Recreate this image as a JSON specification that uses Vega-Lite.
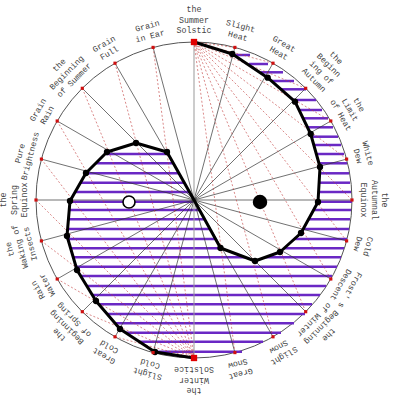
{
  "$schema": "https://vega.github.io/schema/vega-lite/v6.json",
  "width": 388,
  "height": 400,
  "autosize": {"type": "none"},
  "padding": {"left": 0, "top": 0, "right": 5, "bottom": 0},
  "background": "white",
  "config": {"view": {"stroke": null}},
  "datasets": {
    "center": [{"x": 0, "y": 0}],
    "terms": [
      {"deg": 0, "cx": 0, "cy": 158, "lines": 3, "label": "the\nSummer\nSolstic"},
      {"deg": 15, "cx": 40.9, "cy": 152.6, "lines": 2, "label": "Slight\nHeat"},
      {"deg": 30, "cx": 79, "cy": 136.8, "lines": 2, "label": "Great\nHeat"},
      {"deg": 45, "cx": 111.7, "cy": 111.7, "lines": 4, "label": "the\nBeginn\ning of\nAutumn"},
      {"deg": 60, "cx": 136.8, "cy": 79, "lines": 3, "label": "the\nLimit\nof Heat"},
      {"deg": 75, "cx": 152.6, "cy": 40.9, "lines": 2, "label": "White\nDew"},
      {"deg": 90, "cx": 158, "cy": 0, "lines": 3, "label": "the\nAutumnal\nEquinox"},
      {"deg": 105, "cx": 152.6, "cy": -40.9, "lines": 2, "label": "Cold\nDew"},
      {"deg": 120, "cx": 136.8, "cy": -79, "lines": 2, "label": "Frost' s\nDescent"},
      {"deg": 135, "cx": 111.7, "cy": -111.7, "lines": 3, "label": "the\nBeginning\nof Winter"},
      {"deg": 150, "cx": 79, "cy": -136.8, "lines": 2, "label": "Slight\nSnow"},
      {"deg": 165, "cx": 40.9, "cy": -152.6, "lines": 2, "label": "Great\nSnow"},
      {"deg": 180, "cx": 0, "cy": -158, "lines": 3, "label": "the\nWinter\nSolstice"},
      {"deg": 195, "cx": -40.9, "cy": -152.6, "lines": 2, "label": "Slight\nCold"},
      {"deg": 210, "cx": -79, "cy": -136.8, "lines": 2, "label": "Great\nCold"},
      {"deg": 225, "cx": -111.7, "cy": -111.7, "lines": 3, "label": "the\nBeginning\nof Spring"},
      {"deg": 240, "cx": -136.8, "cy": -79, "lines": 2, "label": "Rain\nWater"},
      {"deg": 255, "cx": -152.6, "cy": -40.9, "lines": 3, "label": "the\nWaking of\nInsects"},
      {"deg": 270, "cx": -158, "cy": 0, "lines": 3, "label": "the\nSpring\nEquinox"},
      {"deg": 285, "cx": -152.6, "cy": 40.9, "lines": 2, "label": "Pure\nBrightness"},
      {"deg": 300, "cx": -136.8, "cy": 79, "lines": 2, "label": "Grain\nRain"},
      {"deg": 315, "cx": -111.7, "cy": 111.7, "lines": 3, "label": "the\nBeginning\nof Summer"},
      {"deg": 330, "cx": -79, "cy": 136.8, "lines": 2, "label": "Grain\nFull"},
      {"deg": 345, "cx": -40.9, "cy": 152.6, "lines": 2, "label": "Grain\nin Ear"}
    ],
    "curve": [
      {"seq": 1, "x": 0, "y": 158, "dot": false},
      {"seq": 2, "x": 38.3, "y": 146, "dot": true},
      {"seq": 3, "x": 73.7, "y": 122.3, "dot": true},
      {"seq": 4, "x": 101, "y": 98.3, "dot": true},
      {"seq": 5, "x": 116.7, "y": 66, "dot": true},
      {"seq": 6, "x": 126, "y": 33, "dot": true},
      {"seq": 7, "x": 124, "y": -2, "dot": true},
      {"seq": 8, "x": 107, "y": -33, "dot": true},
      {"seq": 9, "x": 86, "y": -52, "dot": true},
      {"seq": 10, "x": 61, "y": -61, "dot": true},
      {"seq": 11, "x": 26.5, "y": -48, "dot": true},
      {"seq": 12, "x": 0, "y": 0, "dot": false},
      {"seq": 13, "x": -27, "y": 48, "dot": true},
      {"seq": 14, "x": -58, "y": 57, "dot": true},
      {"seq": 15, "x": -87, "y": 48, "dot": true},
      {"seq": 16, "x": -108, "y": 27, "dot": true},
      {"seq": 17, "x": -124, "y": -1, "dot": true},
      {"seq": 18, "x": -127, "y": -36, "dot": true},
      {"seq": 19, "x": -117, "y": -70, "dot": true},
      {"seq": 20, "x": -98, "y": -101, "dot": true},
      {"seq": 21, "x": -74, "y": -129, "dot": true},
      {"seq": 22, "x": -39, "y": -152, "dot": true},
      {"seq": 23, "x": 0, "y": -158, "dot": false}
    ],
    "hatch": [
      {"y": 145, "x1": 40, "x2": 56},
      {"y": 136, "x1": 55, "x2": 74},
      {"y": 127.7, "x1": 67, "x2": 89},
      {"y": 119, "x1": 77.5, "x2": 100},
      {"y": 110.7, "x1": 87, "x2": 112},
      {"y": 100, "x1": 99, "x2": 122},
      {"y": 90, "x1": 105, "x2": 128},
      {"y": 81.7, "x1": 109, "x2": 134},
      {"y": 72.7, "x1": 113, "x2": 139},
      {"y": 63.3, "x1": 117.5, "x2": 144},
      {"y": 55, "x1": 120, "x2": 147},
      {"y": 46, "x1": 122, "x2": 150},
      {"y": 36.7, "x1": 125, "x2": 153},
      {"y": 26.7, "x1": 126, "x2": 155},
      {"y": 17.3, "x1": 125, "x2": 156},
      {"y": 8, "x1": 125, "x2": 157},
      {"y": -1.7, "x1": 124, "x2": 158},
      {"y": -10, "x1": 120, "x2": 157},
      {"y": -19.3, "x1": 114, "x2": 156},
      {"y": -29, "x1": 109, "x2": 155},
      {"y": -39, "x1": 100, "x2": 153},
      {"y": -48.3, "x1": 90, "x2": 150},
      {"y": -57.3, "x1": 71, "x2": 147},
      {"y": 46, "x1": -88, "x2": -26},
      {"y": 36.7, "x1": -98, "x2": -21},
      {"y": 26.7, "x1": -108, "x2": -15},
      {"y": 17.3, "x1": -113.5, "x2": -10},
      {"y": 8, "x1": -119, "x2": -4.5},
      {"y": -1.7, "x1": -124, "x2": 1},
      {"y": -10, "x1": -125, "x2": 5.5},
      {"y": -19.3, "x1": -125.6, "x2": 10.7},
      {"y": -29, "x1": -126.4, "x2": 16},
      {"y": -39, "x1": -126, "x2": 21.5},
      {"y": -48.3, "x1": -123.4, "x2": 27},
      {"y": -57.3, "x1": -120.7, "x2": 51},
      {"y": -66.7, "x1": -118, "x2": 143},
      {"y": -76, "x1": -113, "x2": 138},
      {"y": -86, "x1": -107, "x2": 132},
      {"y": -95, "x1": -102, "x2": 126},
      {"y": -104.3, "x1": -95, "x2": 118},
      {"y": -114, "x1": -87, "x2": 111},
      {"y": -123.3, "x1": -79, "x2": 100},
      {"y": -132.7, "x1": -68, "x2": 87},
      {"y": -141.7, "x1": -55, "x2": 69},
      {"y": -151.7, "x1": -39, "x2": 48}
    ],
    "eyes": [
      {"x": -65, "y": -2, "kind": "open"},
      {"x": 66, "y": -2, "kind": "solid"}
    ]
  },
  "layer": [
    {
      "data": {"name": "center"},
      "mark": {"type": "point", "shape": "circle", "size": 99856, "filled": false, "stroke": "#555555", "strokeWidth": 1, "opacity": 1},
      "encoding": {
        "x": {"field": "x", "type": "quantitative", "axis": null, "scale": {"domain": [-194, 194], "nice": false, "zero": false}},
        "y": {"field": "y", "type": "quantitative", "axis": null, "scale": {"domain": [-200, 200], "nice": false, "zero": false}}
      }
    },
    {
      "data": {"name": "hatch"},
      "mark": {"type": "rule", "color": "#6a28c4", "strokeWidth": 2.5, "strokeCap": "butt"},
      "encoding": {
        "x": {"field": "x1", "type": "quantitative"},
        "x2": {"field": "x2"},
        "y": {"field": "y", "type": "quantitative"}
      }
    },
    {
      "data": {"name": "terms"},
      "transform": [{"filter": "datum.deg != 0 && datum.deg != 180"}],
      "mark": {"type": "rule", "color": "#333333", "strokeWidth": 0.7},
      "encoding": {
        "x": {"field": "cx", "type": "quantitative"},
        "y": {"field": "cy", "type": "quantitative"},
        "x2": {"datum": 0},
        "y2": {"datum": 0}
      }
    },
    {
      "data": {"name": "terms"},
      "transform": [{"filter": "datum.deg == 0 || datum.deg == 180"}],
      "mark": {"type": "rule", "color": "#999999", "strokeWidth": 1},
      "encoding": {
        "x": {"field": "cx", "type": "quantitative"},
        "y": {"field": "cy", "type": "quantitative"},
        "x2": {"datum": 0},
        "y2": {"datum": 0}
      }
    },
    {
      "data": {"name": "terms"},
      "transform": [{"filter": "datum.deg > 0 && datum.deg < 180"}],
      "mark": {"type": "rule", "color": "#c03a3a", "strokeWidth": 0.7, "strokeDash": [2, 2], "opacity": 0.85},
      "encoding": {
        "x": {"field": "cx", "type": "quantitative"},
        "y": {"field": "cy", "type": "quantitative"},
        "x2": {"datum": 0},
        "y2": {"datum": 158}
      }
    },
    {
      "data": {"name": "terms"},
      "transform": [{"filter": "datum.deg > 180"}],
      "mark": {"type": "rule", "color": "#c03a3a", "strokeWidth": 0.7, "strokeDash": [2, 2], "opacity": 0.85},
      "encoding": {
        "x": {"field": "cx", "type": "quantitative"},
        "y": {"field": "cy", "type": "quantitative"},
        "x2": {"datum": 0},
        "y2": {"datum": -158}
      }
    },
    {
      "data": {"name": "curve"},
      "mark": {"type": "line", "color": "black", "strokeWidth": 3, "strokeJoin": "round"},
      "encoding": {
        "x": {"field": "x", "type": "quantitative"},
        "y": {"field": "y", "type": "quantitative"},
        "order": {"field": "seq"}
      }
    },
    {
      "data": {"name": "curve"},
      "transform": [{"filter": "datum.dot"}],
      "mark": {"type": "point", "shape": "circle", "filled": true, "color": "black", "size": 40, "opacity": 1},
      "encoding": {
        "x": {"field": "x", "type": "quantitative"},
        "y": {"field": "y", "type": "quantitative"}
      }
    },
    {
      "data": {"name": "terms"},
      "transform": [{"filter": "datum.deg != 0 && datum.deg != 180"}],
      "mark": {"type": "point", "shape": "square", "filled": true, "color": "#d01010", "size": 10, "opacity": 1},
      "encoding": {
        "x": {"field": "cx", "type": "quantitative"},
        "y": {"field": "cy", "type": "quantitative"}
      }
    },
    {
      "data": {"name": "terms"},
      "transform": [{"filter": "datum.deg == 0 || datum.deg == 180"}],
      "mark": {"type": "point", "shape": "square", "filled": true, "color": "#e00000", "size": 40, "opacity": 1},
      "encoding": {
        "x": {"field": "cx", "type": "quantitative"},
        "y": {"field": "cy", "type": "quantitative"}
      }
    },
    {
      "data": {"name": "eyes"},
      "transform": [{"filter": "datum.kind == 'open'"}],
      "mark": {"type": "point", "shape": "circle", "filled": false, "fill": "white", "fillOpacity": 1, "stroke": "black", "strokeWidth": 1.6, "size": 144, "opacity": 1},
      "encoding": {
        "x": {"field": "x", "type": "quantitative"},
        "y": {"field": "y", "type": "quantitative"}
      }
    },
    {
      "data": {"name": "eyes"},
      "transform": [{"filter": "datum.kind == 'solid'"}],
      "mark": {"type": "point", "shape": "circle", "filled": true, "color": "black", "size": 210, "opacity": 1},
      "encoding": {
        "x": {"field": "x", "type": "quantitative"},
        "y": {"field": "y", "type": "quantitative"}
      }
    },
    {
      "data": {"name": "terms"},
      "mark": {"type": "text", "align": "center", "baseline": "bottom", "lineBreak": "\n", "lineHeight": 10.5, "font": "Liberation Mono", "fontSize": 8.3, "color": "#444444"},
      "encoding": {
        "theta": {"field": "deg", "type": "quantitative", "stack": null, "scale": {"domain": [0, 360], "range": [0, 6.283185307179586]}},
        "radius": {"field": "lines", "type": "quantitative", "scale": {"type": "linear", "zero": false, "domain": [1, 4], "range": [165, 196.5]}},
        "angle": {"field": "deg", "type": "quantitative", "scale": {"domain": [0, 360], "range": [0, 360]}},
        "text": {"field": "label"}
      }
    }
  ]
}
